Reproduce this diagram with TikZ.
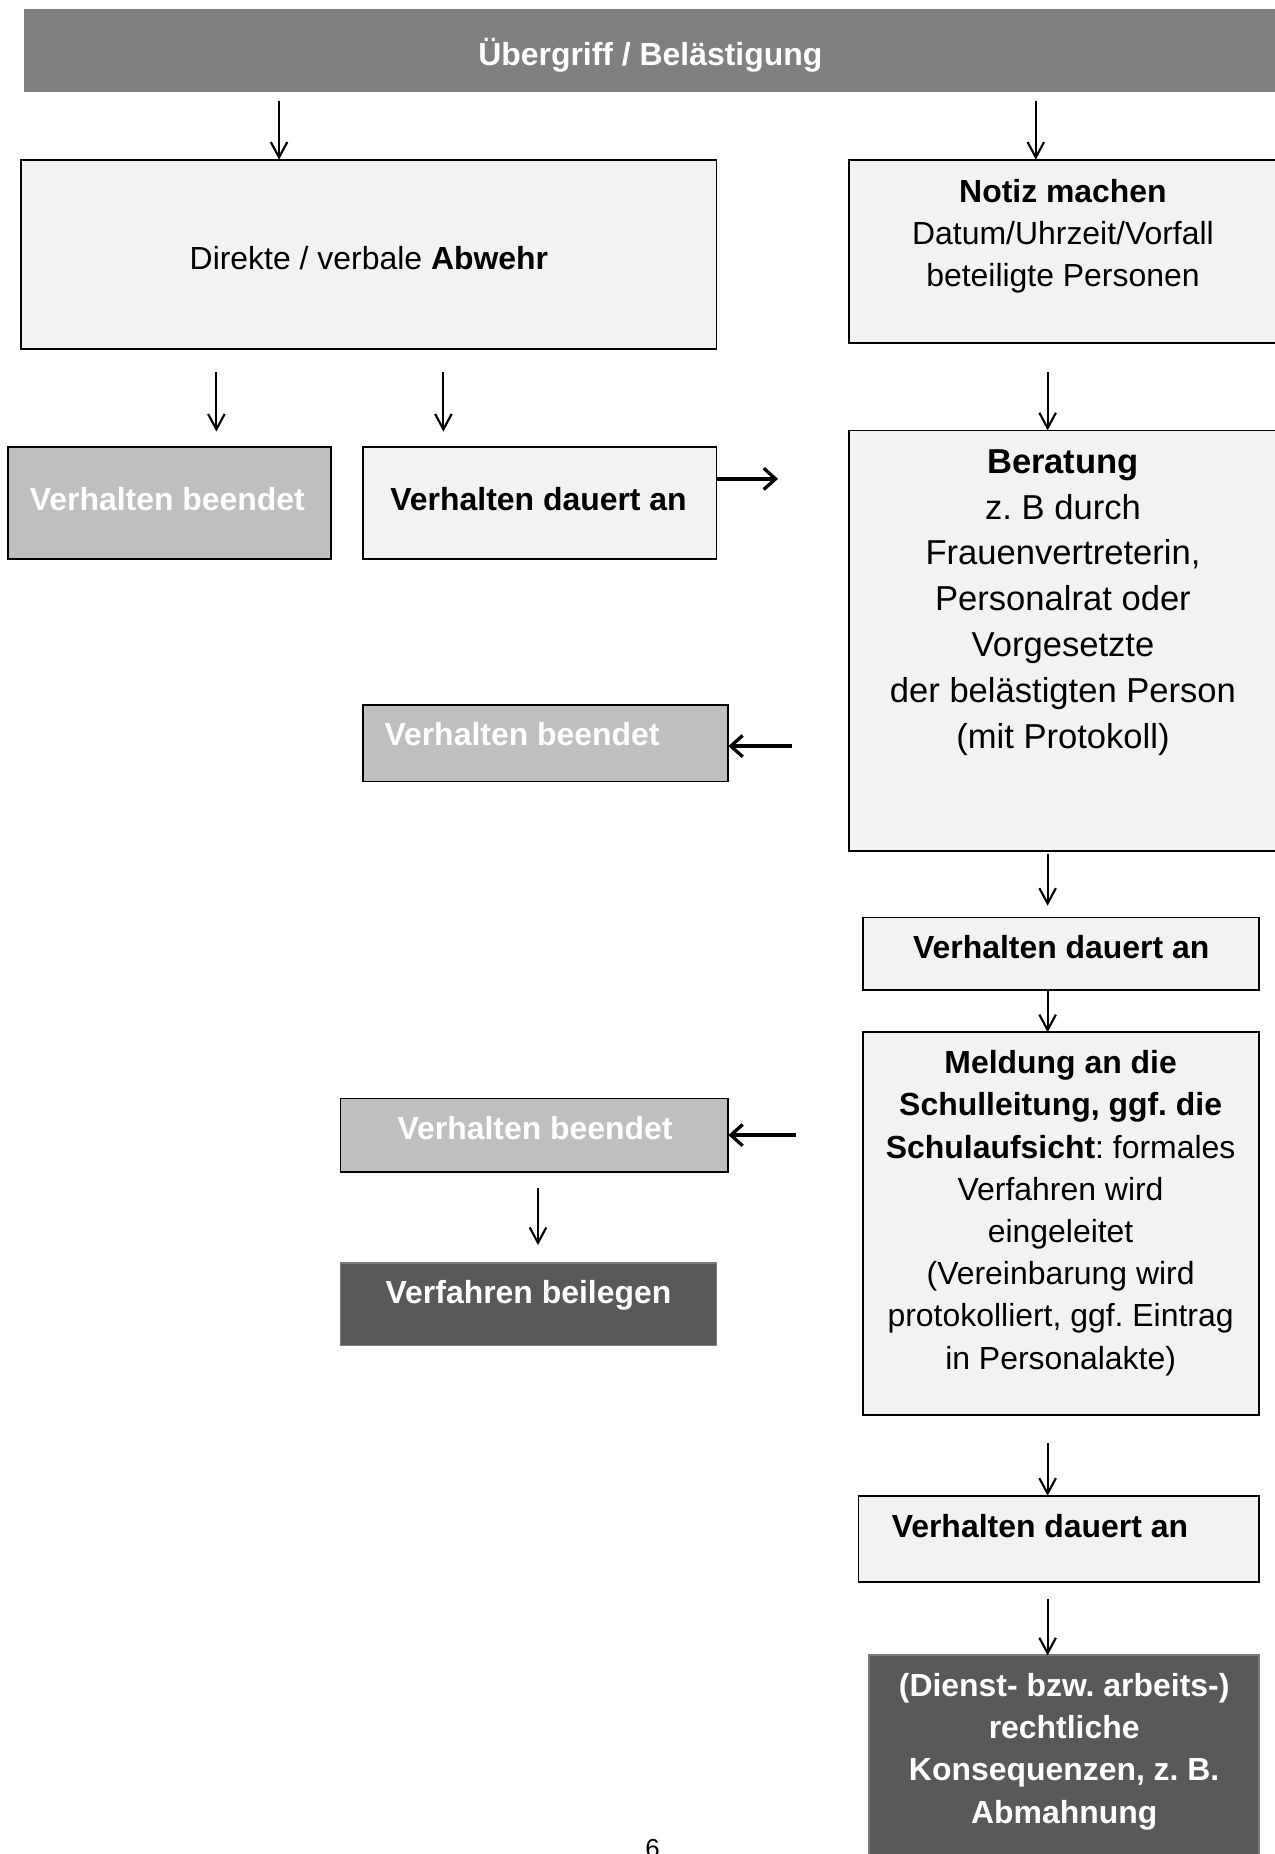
\documentclass[tikz,border=0pt]{standalone}
\usepackage{fontspec}
\setmainfont{Liberation Sans}
\usetikzlibrary{arrows.meta}
\definecolor{barg}{HTML}{808080}
\definecolor{lightg}{HTML}{F2F2F2}
\definecolor{midg}{HTML}{BFBFBF}
\definecolor{darkg}{HTML}{595959}
\frenchspacing
\begin{document}
\begin{tikzpicture}[x=0.5pt,y=-0.5pt,
  box/.style={draw=black, line width=0.75pt, inner sep=0pt, outer sep=0pt},
  lbox/.style={box, fill=lightg},
  mbox/.style={box, fill=midg},
  dbox/.style={box, fill=darkg, draw=darkg!80!white},
  tbar/.style={fill=barg, inner sep=0pt, outer sep=0pt},
  txt/.style={inner sep=0pt, align=center, font=\fontsize{13.5}{17.85}\selectfont},
  btxt/.style={txt, font=\fontsize{13.5}{17.85}\selectfont\bfseries},
  wtxt/.style={btxt, text=white},
  varr/.style={line width=0.9pt, -{Straight Barb[length=6.5pt,width=7pt]}},
  harr/.style={line width=1.4pt, -{Straight Barb[length=5pt,width=9pt]}}]
\useasboundingbox (0,0) rectangle (1078.3,1568);

% boxes
\node[tbar, minimum width=532.5pt, minimum height=35pt] (top) at (552.5,43) {};
\node[lbox, minimum width=294pt, minimum height=80pt] (direkte) at (312,215) {};
\node[lbox, minimum width=183pt, minimum height=77.5pt] (notiz) at (901,212.5) {};
\node[mbox, minimum width=136.5pt, minimum height=47.5pt] (vb1) at (143.5,425.5) {};
\node[lbox, minimum width=149.5pt, minimum height=47.5pt] (vd1) at (456.5,425.5) {};
\node[lbox, minimum width=183pt, minimum height=178pt] (berat) at (901,542) {};
\node[mbox, minimum width=154.5pt, minimum height=32.5pt] (vb2) at (461.5,628.5) {};
\node[lbox, minimum width=167.5pt, minimum height=30.5pt] (vd2) at (897.5,806.5) {};
\node[lbox, minimum width=167.5pt, minimum height=162pt] (meld) at (897.5,1035) {};
\node[mbox, minimum width=164pt, minimum height=31pt] (vb3) at (452,960) {};
\node[dbox, minimum width=159pt, minimum height=35pt] (vfb) at (447,1103) {};
\node[lbox, minimum width=169.5pt, minimum height=36.5pt] (vd3) at (895.5,1301.5) {};
\node[dbox, minimum width=165pt, minimum height=92.5pt] (dienst) at (900,1492.5) {};

% texts
\node[wtxt, anchor=base] (ttop) at (550,55.7) {Übergriff / Belästigung};
\node[txt, anchor=base] (tdirekte) at (312,227.7) {Direkte / verbale \textbf{Abwehr}};
\node[txt] (tnotiz) at (899,199.6) {\textbf{Notiz machen}\\Datum/Uhrzeit/Vorfall\\beteiligte Personen};
\node[wtxt, anchor=base] (tvb1) at (141.5,431.7) {Verhalten beendet};
\node[btxt, anchor=base] (tvd1) at (455.5,431.7) {Verhalten dauert an};
\node[txt, font=\fontsize{14.625}{19.4}\selectfont] (tberat) at (899,509.5)
  {\textbf{Beratung}\\z. B durch\\Frauenvertreterin,\\Personalrat oder\\Vorgesetzte\\der belästigten Person\\(mit Protokoll)};
\node[wtxt, anchor=base] (tvb2) at (441.5,630.7) {Verhalten beendet};
\node[btxt, anchor=base] (tvd2) at (897.5,810.7) {Verhalten dauert an};
\node[txt] (tmeld) at (897,1026)
  {\textbf{Meldung an die}\\\textbf{Schulleitung, ggf. die}\\\textbf{Schulaufsicht}: formales\\Verfahren wird\\eingeleitet\\(Vereinbarung wird\\protokolliert, ggf. Eintrag\\in Personalakte)};
\node[wtxt, anchor=base] (tvb3) at (452.5,963.7) {Verhalten beendet};
\node[wtxt, anchor=base] (tvfb) at (447,1102.7) {Verfahren beilegen};
\node[btxt, anchor=base] (tvd3) at (879.5,1300.7) {Verhalten dauert an};
\node[wtxt] (tdienst) at (900,1481.4)
  {(Dienst- bzw. arbeits-)\\rechtliche\\Konsequenzen, z. B.\\Abmahnung};
\node[inner sep=0pt, anchor=base, font=\fontsize{11}{13}\selectfont] (pnum) at (552,1571) {6};

% arrow end points
\coordinate (c1) at (236,85);
\coordinate (c2) at (876,85);
\coordinate (c3s) at (183,315);
\coordinate (c3e) at (183,365);
\coordinate (c4s) at (375,315);
\coordinate (c4e) at (375,365);
\coordinate (c5) at (886,315);
\coordinate (c6) at (658,405);
\coordinate (c7) at (670,631);
\coordinate (c8s) at (886,722);
\coordinate (c8e) at (886,766);
\coordinate (c9) at (886,855);
\coordinate (c10) at (673,960);
\coordinate (c11s) at (455,1005);
\coordinate (c11e) at (455,1053);
\coordinate (c12) at (886,1220);
\coordinate (c13) at (886,1352);

% arrows
\draw[varr] (c1) -- (c1 |- direkte.north);
\draw[varr] (c2) -- (c2 |- notiz.north);
\draw[varr] (c3s) -- (c3e);
\draw[varr] (c4s) -- (c4e);
\draw[varr] (c5) -- (c5 |- berat.north);
\draw[harr] (vd1.east |- c6) -- (c6);
\draw[harr] (c7) -- (vb2.east |- c7);
\draw[varr] (c8s) -- (c8e);
\draw[varr] (vd2.south -| c9) -- (meld.north -| c9);
\draw[harr] (c10) -- (vb3.east |- c10);
\draw[varr] (c11s) -- (c11e);
\draw[varr] (c12) -- (c12 |- vd3.north);
\draw[varr] (c13) -- (c13 |- dienst.north);
\end{tikzpicture}
\end{document}
